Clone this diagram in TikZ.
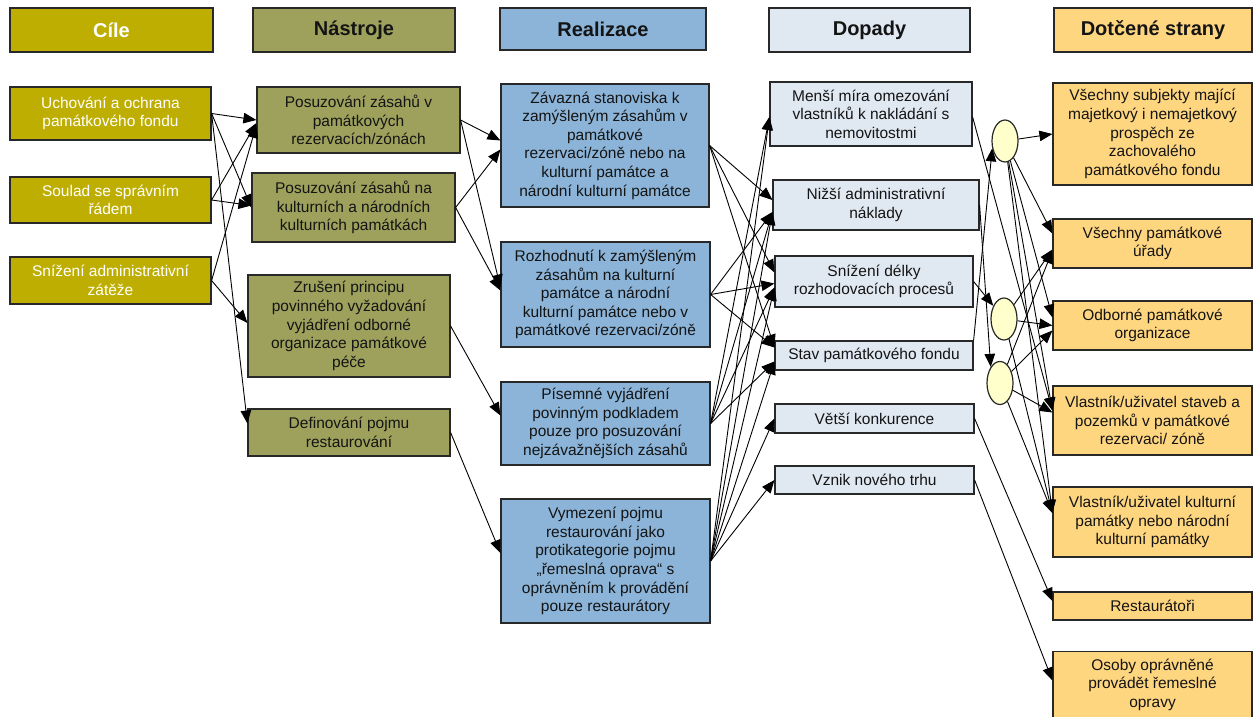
\documentclass[tikz,border=0pt]{standalone}
\usepackage{fontspec}
\setmainfont{Liberation Sans}
\usetikzlibrary{arrows.meta,shapes.geometric,calc}
\definecolor{cile}{RGB}{190,174,2}
\definecolor{nastr}{RGB}{157,161,92}
\definecolor{real}{RGB}{139,180,216}
\definecolor{dop}{RGB}{224,232,242}
\definecolor{dot}{RGB}{255,214,128}
\definecolor{ellc}{RGB}{255,255,204}
\definecolor{bd}{RGB}{40,40,40}
\definecolor{txt}{RGB}{20,20,20}
\newcommand{\bodyfont}{\fontsize{15.5}{18.6}\selectfont}
\newcommand{\headfont}{\fontsize{20}{24}\selectfont\bfseries}
\begin{document}
\begin{tikzpicture}[x=1pt,y=-1pt,
  box/.style={draw=bd, line width=1.2pt, inner sep=0pt, align=center, font=\bodyfont, text=txt},
  hbox/.style={box, font=\headfont, minimum height=44pt},
  cbox/.style={box, fill=cile, text=white, minimum width=201pt},
  nbox/.style={box, fill=nastr, minimum width=202pt},
  rbox/.style={box, fill=real, minimum width=209pt},
  dbox/.style={box, fill=dop, minimum width=199pt},
  sbox/.style={box, fill=dot, minimum width=199pt},
  ell/.style={ellipse, draw=bd, line width=1.2pt, fill=ellc, minimum width=26pt, minimum height=42pt, inner sep=0pt},
  arr/.style={-{Triangle[length=13pt,width=10.5pt]}, line width=0.9pt, draw=black}]
\useasboundingbox (0,0) rectangle (1253,717);

% headers
\node[hbox, fill=cile, text=white, minimum width=203pt] (hC) at (111.5,30) {Cíle};
\node[hbox, fill=nastr, minimum width=202pt] (hN) at (354,30) {Nástroje};
\node[hbox, fill=real, minimum width=206pt, minimum height=42pt] (hR) at (603,29) {Realizace};
\node[hbox, fill=dop, minimum width=201pt] (hD) at (869.5,30) {Dopady};
\node[hbox, fill=dot, minimum width=198pt] (hS) at (1153,30) {Dotčené strany};

% Cile
\node[cbox, minimum height=53pt] (c1) at (110.5,113.5) {Uchování a ochrana\\památkového fondu};
\node[cbox, minimum height=46pt] (c2) at (110.5,200) {Soulad se správním\\řádem};
\node[cbox, minimum height=47pt] (c3) at (110.5,280.5) {Snížení administrativní\\zátěže};

% Nastroje
\node[nbox, minimum width=203pt, minimum height=66pt] (n1) at (358.5,120) {Posuzování zásahů v\\památkových\\rezervacích/zónách};
\node[nbox, minimum width=203pt, minimum height=69pt] (n2) at (353.5,207.5) {Posuzování zásahů na\\kulturních a národních\\kulturních památkách};
\node[nbox, minimum height=102pt] (n3) at (349,326) {Zrušení principu\\povinného vyžadování\\vyjádření odborné\\organizace památkové\\péče};
\node[nbox, minimum height=47pt] (n4) at (349,432.5) {Definování pojmu\\restaurování};

% Realizace
\node[rbox, minimum width=208pt, minimum height=123pt] (r1) at (605,145.5) {Závazná stanoviska k\\zamýšleným zásahům v\\památkové\\rezervaci/zóně nebo na\\kulturní památce a\\národní kulturní památce};
\node[rbox, minimum height=105pt] (r2) at (605.5,294.5) {Rozhodnutí k zamýšleným\\zásahům na kulturní\\památce a národní\\kulturní památce nebo v\\památkové rezervaci/zóně};
\node[rbox, minimum height=83pt] (r3) at (605.5,423.5) {Písemné vyjádření\\povinným podkladem\\pouze pro posuzování\\nejzávažnějších zásahů};
\node[rbox, minimum height=124pt] (r4) at (605.5,561) {Vymezení pojmu\\restaurování jako\\protikategorie pojmu\\„řemeslná oprava“ s\\oprávněním k provádění\\pouze restaurátory};

% Dopady
\node[dbox, minimum width=202pt, minimum height=64pt] (d1) at (871,114) {Menší míra omezování\\vlastníků k nakládání s\\nemovitostmi};
\node[dbox, minimum width=206pt, minimum height=50pt] (d2) at (876,205) {Nižší administrativní\\náklady};
\node[dbox, minimum width=198pt, minimum height=51pt] (d3) at (874,281.5) {Snížení délky\\rozhodovacích procesů};
\node[dbox, minimum width=198pt, minimum height=29pt] (d4) at (874,355.5) {Stav památkového fondu};
\node[dbox, minimum height=29pt] (d5) at (874.5,418.5) {Větší konkurence};
\node[dbox, minimum height=28pt] (d6) at (874.5,480) {Vznik nového trhu};

% ellipses
\node[ell] (E1) at (1005,141) {};
\node[ell] (E2) at (1004,319) {};
\node[ell, minimum height=43pt] (E3) at (1000,383) {};

% Dotcene strany
\node[sbox, minimum height=102pt] (s1) at (1152.5,134) {Všechny subjekty mající\\majetkový i nemajetkový\\prospěch ze\\zachovalého\\památkového fondu};
\node[sbox, minimum height=49pt] (s2) at (1152.5,243.5) {Všechny památkové\\úřady};
\node[sbox, minimum height=49pt] (s3) at (1152.5,325.5) {Odborné památkové\\organizace};
\node[sbox, minimum height=69pt] (s4) at (1152.5,420.5) {Vlastník/uživatel staveb a\\pozemků v památkové\\rezervaci/ zóně};
\node[sbox, minimum height=70pt] (s5) at (1152.5,522) {Vlastník/uživatel kulturní\\památky nebo národní\\kulturní památky};
\node[sbox, minimum height=28pt] (s6) at (1152.5,606) {Restaurátoři};
\node[sbox, minimum height=66pt] (s7) at (1152.5,684.5) {Osoby oprávněné\\provádět řemeslné\\opravy};

% Cile -> Nastroje
\draw[arr] (c1.east) -- (n1.west);
\draw[arr] (c1.east) -- (n2.west);
\draw[arr] (c1.east) -- ($(n4.west)+(0,-9)$);
\draw[arr] (c2.east) -- ($(n1.west)+(0,3)$);
\draw[arr] (c2.east) -- ($(n2.west)+(0,-2)$);
\draw[arr] (c3.east) -- ($(n1.west)+(0,5)$);
\draw[arr] (c3.east) -- ($(n3.west)+(0,-3)$);

% Nastroje -> Realizace
\draw[arr] (n1.east) -- ($(r1.west)+(0,-5)$);
\draw[arr] (n1.east) -- ($(r2.west)+(0,-7)$);
\draw[arr] (n2.east) -- ($(r1.west)+(0,4)$);
\draw[arr] (n2.east) -- ($(r2.west)+(0,-4)$);
\draw[arr] (n3.east) -- ($(r3.west)+(0,-8)$);
\draw[arr] (n4.east) -- ($(r4.west)+(0,-8)$);

% Realizace -> Dopady
\draw[arr] (r1.east) -- ($(d2.west)+(0,-5)$);
\draw[arr] (r1.east) -- ($(d3.west)+(0,-9)$);
\draw[arr] (r1.east) -- ($(d4.west)+(0,-8)$);
\draw[arr] (r2.east) -- ($(d2.west)+(0,7)$);
\draw[arr] (r2.east) -- ($(d3.west)+(0,2)$);
\draw[arr] (r2.east) -- ($(d4.west)+(0,-8)$);
\draw[arr] (r3.east) -- ($(d1.west)+(0,3)$);
\draw[arr] (r3.east) -- ($(d2.west)+(0,7)$);
\draw[arr] (r3.east) -- ($(d3.west)+(0,6)$);
\draw[arr] (r3.east) -- ($(d4.west)+(0,6)$);
\draw[arr] (r4.east) -- ($(d1.west)+(0,3)$);
\draw[arr] (r4.east) -- ($(d2.west)+(0,7)$);
\draw[arr] (r4.east) -- ($(d3.west)+(0,6)$);
\draw[arr] (r4.east) -- ($(d4.west)+(0,6)$);
\draw[arr] (r4.east) -- (d5.west);
\draw[arr] (r4.east) -- (d6.west);

% Dopady -> ellipses / strany
\draw[arr] ($(d1.east)+(0,3)$) -- ($(s4.west)+(0,-10)$);
\draw[arr] (d2.east) -- (E3.120);
\draw[arr] (d3.east) -- (E2);
\draw[arr] (d4.north east) -- (E1.210);
\draw[arr] (d5.east) -- ($(s6.west)+(0,-5)$);
\draw[arr] (d6.east) -- ($(s7.west)+(0,-4)$);

% ellipses -> strany
\draw[arr] (E1) -- (s1.west);
\draw[arr] (E1) -- ($(s2.west)+(0,-10)$);
\draw[arr] (E1) -- ($(s3.west)+(0,-8)$);
\draw[arr] (E1) -- ($(s4.west)+(0,-10)$);
\draw[arr] (E1) -- ($(s5.west)+(0,-9)$);
\draw[arr] (E2) -- ($(s2.west)+(0,6)$);
\draw[arr] (E2) -- (s3.west);
\draw[arr] (E2) -- ($(s5.west)+(0,-9)$);
\draw[arr] (E3) -- ($(s2.west)+(0,7)$);
\draw[arr] (E3) -- ($(s3.west)+(0,5)$);
\draw[arr] (E3) -- ($(s4.west)+(0,-8)$);
\draw[arr] (E3) -- ($(s5.west)+(0,-9)$);
\end{tikzpicture}
\end{document}
